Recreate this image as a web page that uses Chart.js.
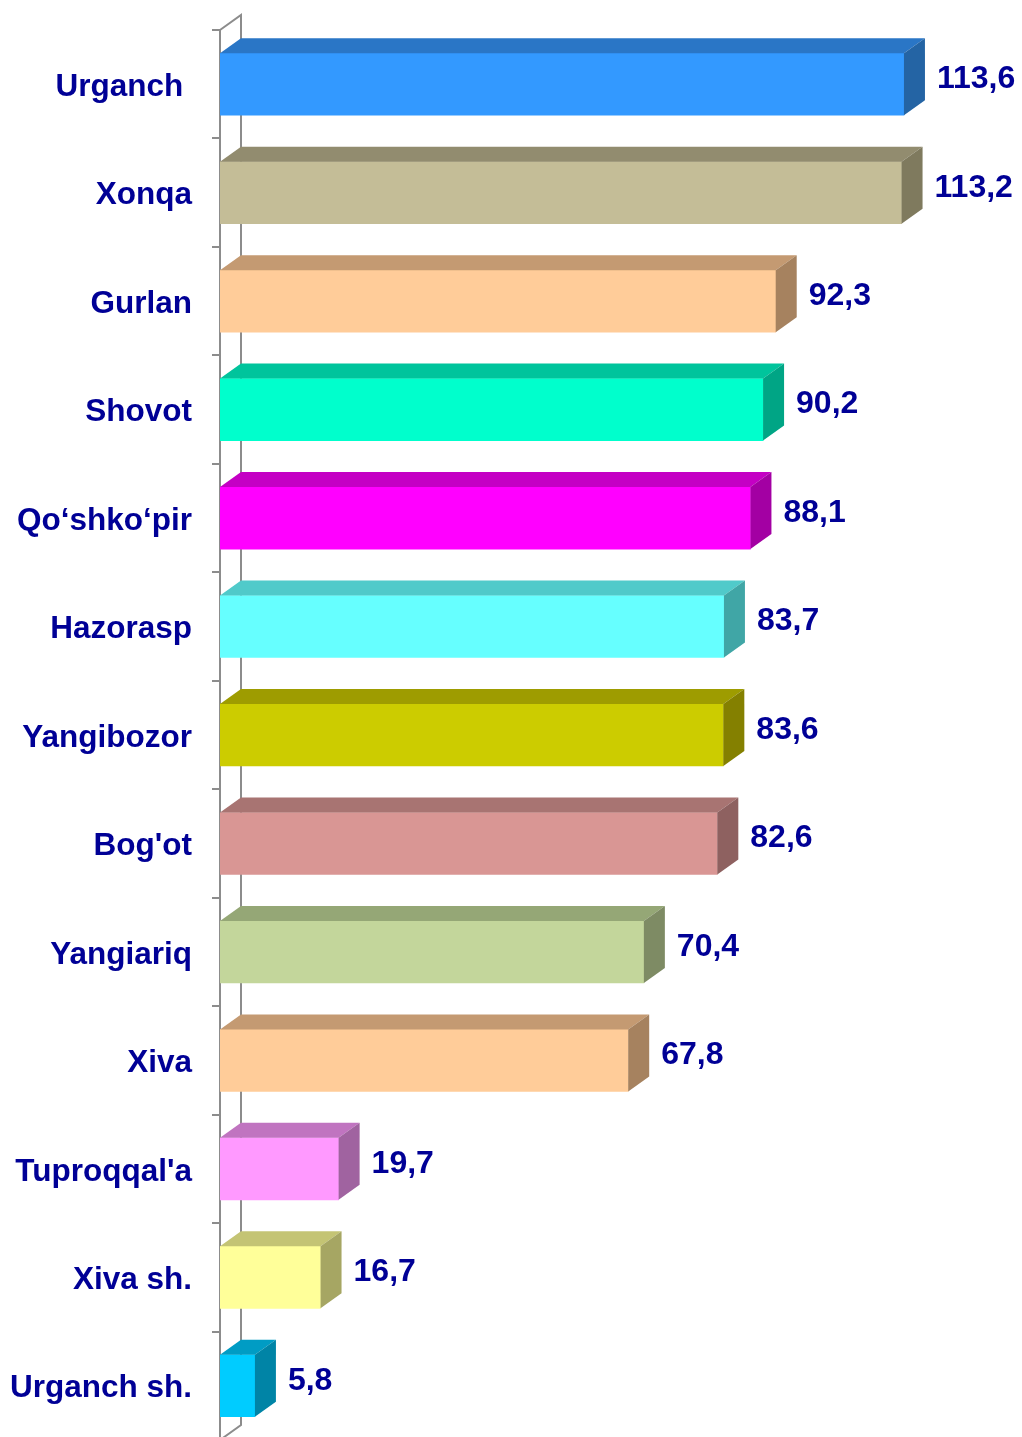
<!DOCTYPE html>
<html>
<head>
<meta charset="utf-8">
<script src="https://cdn.jsdelivr.net/npm/chart.js@4.4.1/dist/chart.umd.min.js"></script>
<style>
  html, body { margin: 0; padding: 0; background: #fff; }
  #wrap { width: 1022px; height: 1437px; overflow: hidden; }
</style>
</head>
<body>
<div id="wrap"><canvas id="chartCanvas" width="1022" height="1440"></canvas></div>
<script>
// Districts and their values
const districts = ['Urganch ', 'Xonqa', 'Gurlan', 'Shovot', 'Qo‘shko‘pir', 'Hazorasp',
  'Yangibozor', "Bog'ot", 'Yangiariq', 'Xiva', "Tuproqqal'a", 'Xiva sh.', 'Urganch sh.'];
const values = [113.6, 113.2, 92.3, 90.2, 88.1, 83.7, 83.6, 82.6, 70.4, 67.8, 19.7, 16.7, 5.8];
const valueLabels = ['113,6', '113,2', '92,3', '90,2', '88,1', '83,7', '83,6', '82,6', '70,4', '67,8', '19,7', '16,7', '5,8'];

// front / top / side shades for each bar
const frontColors = ['#3399FF', '#C4BD97', '#FFCC99', '#00FFCC', '#FF00FF', '#66FFFF',
  '#CCCC00', '#D99694', '#C3D69B', '#FFCC99', '#FF99FF', '#FFFF99', '#00CCFF'];
const topColors = ['#2A76C6', '#928C6F', '#C49A72', '#00C49C', '#C400C4', '#50CACA',
  '#9E9C00', '#A87472', '#95A776', '#C49A72', '#C074C0', '#C4C474', '#009CC4'];
const sideColors = ['#2464A4', '#7F7A5E', '#A6825F', '#00A585', '#A300A3', '#40A6A6',
  '#848000', '#8E6160', '#7E8B64', '#A6825F', '#A063A0', '#A6A663', '#0084A6'];

const DX = 21, DY = 15;
const navy = '#000096';
const wallColor = '#8C8C8C';
const fontFamily = 'Arial, "Liberation Sans", sans-serif';

const bar3d = {
  id: 'bar3d',
  beforeDatasetsDraw(chart) {
    const { ctx, chartArea: a } = chart;
    ctx.save();
    ctx.strokeStyle = wallColor;
    ctx.lineWidth = 2;
    ctx.beginPath();
    ctx.moveTo(a.left, a.top);
    ctx.lineTo(a.left + DX, a.top - DY);
    ctx.lineTo(a.left + DX, a.bottom - DY);
    ctx.lineTo(a.left, a.bottom);
    ctx.stroke();
    ctx.restore();
  },
  afterDatasetsDraw(chart) {
    const { ctx } = chart;
    const meta = chart.getDatasetMeta(0);
    ctx.save();
    meta.data.forEach((bar, i) => {
      const x0 = bar.base, x1 = bar.x;
      const yT = bar.y - bar.height / 2, yB = bar.y + bar.height / 2;
      // top face
      ctx.fillStyle = topColors[i];
      ctx.beginPath();
      ctx.moveTo(x0, yT);
      ctx.lineTo(x0 + DX, yT - DY);
      ctx.lineTo(x1 + DX, yT - DY);
      ctx.lineTo(x1, yT);
      ctx.closePath();
      ctx.fill();
      // right face
      ctx.fillStyle = sideColors[i];
      ctx.beginPath();
      ctx.moveTo(x1, yT);
      ctx.lineTo(x1 + DX, yT - DY);
      ctx.lineTo(x1 + DX, yB - DY);
      ctx.lineTo(x1, yB);
      ctx.closePath();
      ctx.fill();
      // value label
      ctx.fillStyle = navy;
      ctx.font = 'bold 32px ' + fontFamily;
      ctx.textAlign = 'left';
      ctx.textBaseline = 'middle';
      ctx.fillText(valueLabels[i], x1 + DX + 12, bar.y - 5);
    });
    ctx.restore();
  }
};

const ctx = document.getElementById('chartCanvas').getContext('2d');
new Chart(ctx, {
  type: 'bar',
  data: {
    labels: districts,
    datasets: [{
      data: values,
      backgroundColor: frontColors,
      borderWidth: 0,
      barThickness: 62
    }]
  },
  options: {
    indexAxis: 'y',
    responsive: false,
    animation: false,
    devicePixelRatio: 1,
    layout: { padding: { top: 30, right: 19.3, bottom: 0, left: 0 } },
    plugins: { legend: { display: false }, tooltip: { enabled: false } },
    scales: {
      x: { display: false, min: 0, max: 130 },
      y: {
        afterFit(scale) {
          scale.width = 220;
          scale.paddingTop = 0;
          scale.paddingBottom = 0;
        },
        grid: {
          offset: true,
          drawOnChartArea: false,
          drawTicks: true,
          tickLength: 8,
          color: wallColor,
          lineWidth: 2
        },
        border: { display: true, color: wallColor, width: 2 },
        ticks: {
          padding: 20,
          labelOffset: 3,
          color: navy,
          font: { family: fontFamily, size: 31.5, weight: 'bold' }
        }
      }
    }
  },
  plugins: [bar3d]
});
</script>
</body>
</html>
